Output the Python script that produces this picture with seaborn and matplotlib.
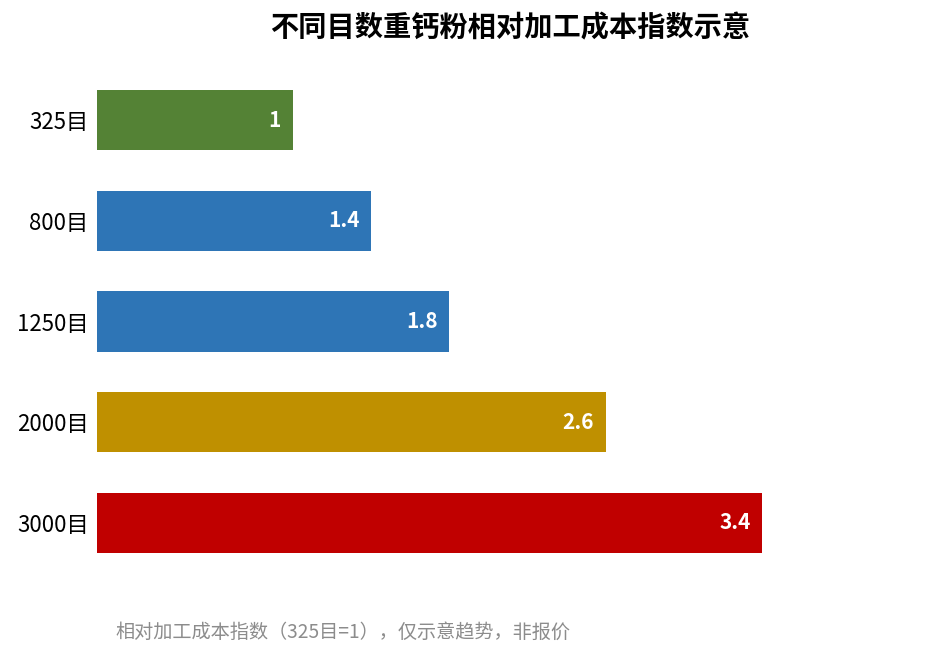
import matplotlib
matplotlib.use("Agg")
import matplotlib.pyplot as plt
import seaborn as sns
import pandas as pd

categories = ["325目", "800目", "1250目", "2000目", "3000目"]
values = [1, 1.4, 1.8, 2.6, 3.4]
value_labels = ["1", "1.4", "1.8", "2.6", "3.4"]
colors = ["#548235", "#2E75B6", "#2E75B6", "#BF9000", "#C00000"]

sns.set_theme(style="white")
plt.rcParams['font.family'] = ['Noto Sans CJK SC', 'DejaVu Sans']

df = pd.DataFrame({"cat": categories, "val": values})

fig = plt.figure(figsize=(9.36, 6.59), dpi=100)
ax = fig.add_axes([97/936, 1 - 573/659, (923-97)/936, (573-70)/659])
sns.barplot(data=df, y="cat", x="val", hue="cat", palette=colors, order=categories,
            hue_order=categories, legend=False, width=0.6, ax=ax, saturation=1,
            linewidth=0, edgecolor="none")
ax.set_xlim(0, 4.22)
ax.set_xlabel("")
ax.set_ylabel("")
ax.set_xticks([])
for s in ax.spines.values():
    s.set_visible(False)
ax.tick_params(axis="y", length=0, labelsize=16, pad=6)
for lab in ax.get_yticklabels():
    lab.set_color("black")

for i, (v, t) in enumerate(zip(values, value_labels)):
    ax.text(v - 0.06, i, t, ha="right", va="center", color="white",
            fontsize=15, fontweight="bold")

fig.text(510/936, 1 - 28/659, "不同目数重钙粉相对加工成本指数示意", ha="center", va="center",
         fontsize=20.3, fontweight="bold", color="black")
fig.text(115/936, 1 - 632/659, "相对加工成本指数（325目=1），仅示意趋势，非报价", ha="left", va="center",
         fontsize=13.8, color="#8C8C8C")

fig.savefig("out.png", dpi=100)
